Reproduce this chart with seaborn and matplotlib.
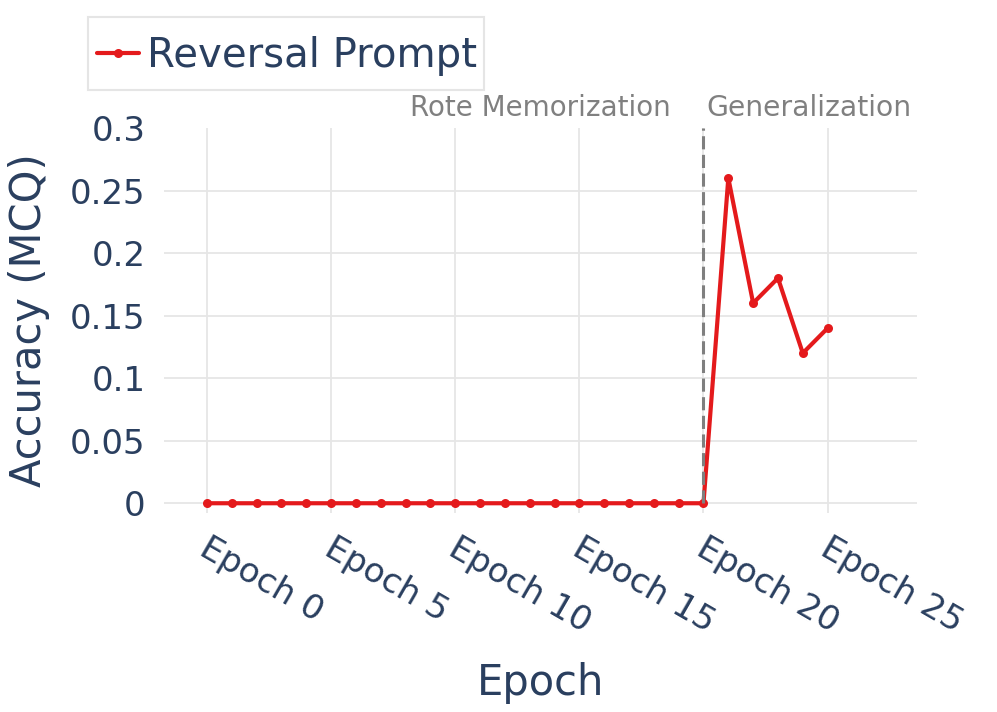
import numpy as np
import pandas as pd
import matplotlib
matplotlib.use("Agg")
import matplotlib.pyplot as plt
from matplotlib.patches import Rectangle
from matplotlib.transforms import ScaledTranslation, blended_transform_factory
import seaborn as sns

epochs = list(range(26))
accuracy = [0.0] * 21 + [0.26, 0.16, 0.18, 0.12, 0.14]
series_name = "Reversal Prompt"
xtick_values = [0, 5, 10, 15, 20, 25]
xtick_labels = ["Epoch 0", "Epoch 5", "Epoch 10", "Epoch 15", "Epoch 20", "Epoch 25"]
ytick_values = [0, 0.05, 0.1, 0.15, 0.2, 0.25, 0.3]
ytick_labels = ["0", "0.05", "0.1", "0.15", "0.2", "0.25", "0.3"]
phase_split = 20
phase_labels = ["Rote Memorization", "Generalization"]

df = pd.DataFrame({"Epoch": epochs, "Accuracy": accuracy, "Series": series_name})

sns.set_theme(style="white")
plt.rcParams["font.family"] = ["DejaVu Sans"]

TXT = "#2a3f5f"
RED = "#e41a1c"
GRID = "#e6e6e6"

fig = plt.figure(figsize=(9.97, 7.12), dpi=100)
ax = fig.add_axes([164 / 997, 1 - 513 / 712, (917 - 164) / 997, (513 - 128) / 712])

ax.vlines(phase_split, 0, 0.3, colors="#7f7f7f", linestyles=(0, (4.3, 1.8)), linewidth=2.2, zorder=4)

sns.lineplot(data=df, x="Epoch", y="Accuracy", hue="Series", palette=[RED], marker="o",
             markersize=6.5, markeredgewidth=0, linewidth=3.0, ax=ax, zorder=3)

ax.set_xlim(-1.73, 28.6)
ax.set_ylim(-0.0078, 0.3)
for s in ax.spines.values():
    s.set_visible(False)

ax.set_xticks(xtick_values)
ax.set_xticklabels(xtick_labels)
ax.set_yticks(ytick_values)
ax.set_yticklabels(ytick_labels)
ax.grid(True, color=GRID, linewidth=1.3)
ax.set_axisbelow(True)

ax.tick_params(axis="x", length=0, pad=13.5, labelsize=24.5, labelcolor=TXT)
ax.tick_params(axis="y", length=5, width=1.3, color=GRID, pad=8.5, labelsize=24.5, labelcolor=TXT)
for lab in ax.get_xticklabels():
    lab.set_rotation(-30)
    lab.set_ha("left")
    lab.set_va("top")
    lab.set_rotation_mode("anchor")
    lab.set_transform(lab.get_transform() + ScaledTranslation(4 / 100, 0, fig.dpi_scale_trans))
ax.yaxis.get_gridlines()[-1].set_visible(False)

ax.set_xlabel("Epoch", fontsize=30, color=TXT)
ax.set_ylabel("Accuracy (MCQ)", fontsize=30, color=TXT)
ax.xaxis.set_label_coords(0.5, -0.387)
ax.yaxis.set_label_coords(-0.152, 0.5)

tr = blended_transform_factory(ax.transData, ax.transAxes)
ax.text(phase_split - 1.3, 1.052, phase_labels[0], transform=tr, ha="right", va="center",
        fontsize=20, color="#808080")
ax.text(phase_split + 0.12, 1.052, phase_labels[1], transform=tr, ha="left", va="center",
        fontsize=20.3, color="#808080")

ax.get_legend().remove()
handles, labels = ax.get_legend_handles_labels()
leg = fig.legend(handles, labels, loc="upper left", bbox_to_anchor=(97 / 997, 1 - 36 / 712),
                 fontsize=29, handlelength=1.05, handletextpad=0.2, borderpad=0.0,
                 borderaxespad=0, frameon=False, labelcolor=TXT)
fig.patches.append(Rectangle((88 / 997, 1 - 90 / 712), 396 / 997, 73 / 712,
                             transform=fig.transFigure, fill=False,
                             edgecolor="#e5e5e5", linewidth=1.5))

fig.savefig("out.png", dpi=100)
